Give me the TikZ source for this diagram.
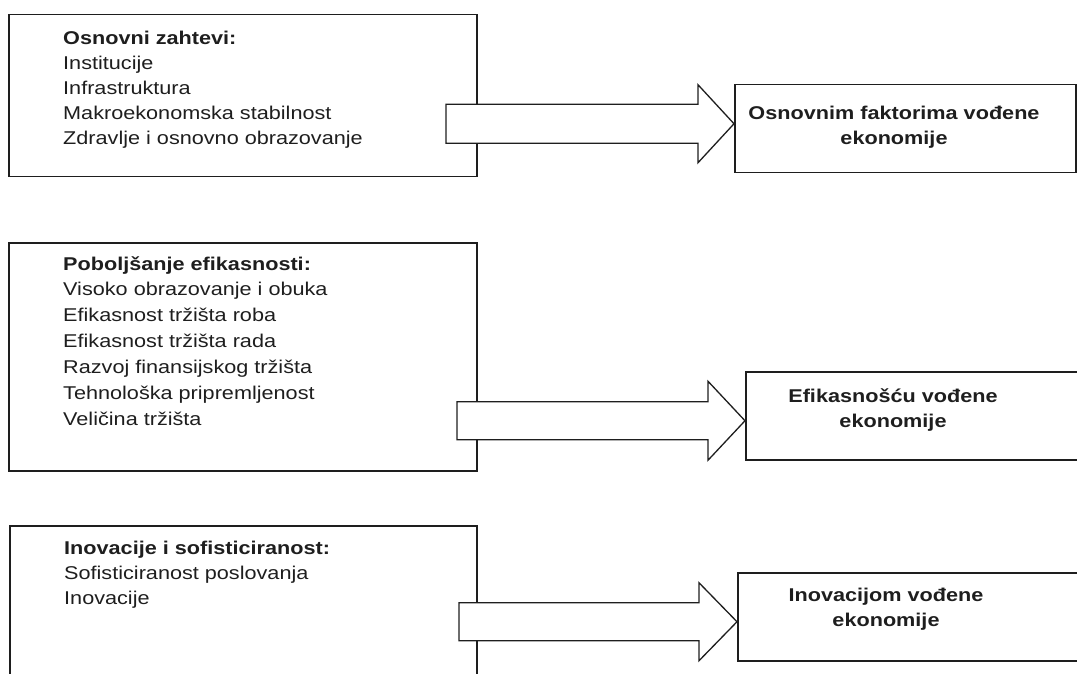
\documentclass[tikz,border=0pt]{standalone}
\usepackage{fontspec}
\setmainfont{Liberation Sans}[FakeStretch=1.17]
\usetikzlibrary{calc}
\definecolor{ink}{HTML}{1E1E1E}
\begin{document}
\begin{tikzpicture}[x=1pt,y=-1pt,
  framebox/.style={draw=ink, line width=1.5pt, inner sep=0pt, anchor=north west},
  listtext/.style={anchor=north west, inner sep=0pt, align=left, text=ink,
                   font=\fontsize{18.5}{25}\selectfont},
  goaltext/.style={anchor=north, inner sep=0pt, align=center, text=ink,
                   font=\bfseries\fontsize{18.5}{25}\selectfont},
  blockarrow/.style={draw=ink, line width=1.3pt, fill=white, line join=miter}]
\useasboundingbox (0,0) rectangle (1077,674);
\clip (0,0) rectangle (1077,674);

% left boxes
\node[framebox, minimum width=468pt, minimum height=162pt] (b1) at (8,14) {};
\node[framebox, minimum width=468pt, minimum height=228pt] (b2) at (8,242) {};
\node[framebox, minimum width=467pt, minimum height=180pt] (b3) at (9,525) {};

% right boxes
\node[framebox, minimum width=341pt, minimum height=88pt] (r1) at (734,84) {};
\node[framebox, minimum width=345pt, minimum height=88pt] (r2) at (745,371) {};
\node[framebox, minimum width=345pt, minimum height=88pt] (r3) at (737,572) {};

% texts of left boxes
\node[listtext] (l1) at (63,31) {\textbf{Osnovni zahtevi:}\\Institucije\\Infrastruktura\\Makroekonomska stabilnost\\Zdravlje i osnovno obrazovanje};
\node[listtext, font=\fontsize{18.5}{25.9}\selectfont] (l2) at (63,256) {\textbf{Poboljšanje efikasnosti:}\\Visoko obrazovanje i obuka\\Efikasnost tržišta roba\\Efikasnost tržišta rada\\Razvoj finansijskog tržišta\\Tehnološka pripremljenost\\Veličina tržišta};
\node[listtext] (l3) at (64,541) {\textbf{Inovacije i sofisticiranost:}\\Sofisticiranost poslovanja\\Inovacije};

% texts of right boxes
\node[goaltext] (g1) at (894,106) {Osnovnim faktorima vođene\\ekonomije};
\node[goaltext] (g2) at (893,388) {Efikasnošću vođene\\ekonomije};
\node[goaltext] (g3) at (886,588) {Inovacijom vođene\\ekonomije};

% arrow tips
\coordinate (t1) at ($(r1.west)+(0,-5)$);
\coordinate (t2) at ($(r2.west)+(0,5)$);
\coordinate (t3) at ($(r3.west)+(0,5)$);

% block arrows
\draw[blockarrow] ($(t1)+(-288,-19.5)$) -- ($(t1)+(-36,-19.5)$) -- ($(t1)+(-36,-39)$) -- (t1)
  -- ($(t1)+(-36,39)$) -- ($(t1)+(-36,19.5)$) -- ($(t1)+(-288,19.5)$) -- cycle;
\draw[blockarrow] ($(t2)+(-288,-19)$) -- ($(t2)+(-37,-19)$) -- ($(t2)+(-37,-39.5)$) -- (t2)
  -- ($(t2)+(-37,39.5)$) -- ($(t2)+(-37,19)$) -- ($(t2)+(-288,19)$) -- cycle;
\draw[blockarrow] ($(t3)+(-278,-19)$) -- ($(t3)+(-38,-19)$) -- ($(t3)+(-38,-39)$) -- (t3)
  -- ($(t3)+(-38,39)$) -- ($(t3)+(-38,19)$) -- ($(t3)+(-278,19)$) -- cycle;
\end{tikzpicture}
\end{document}
